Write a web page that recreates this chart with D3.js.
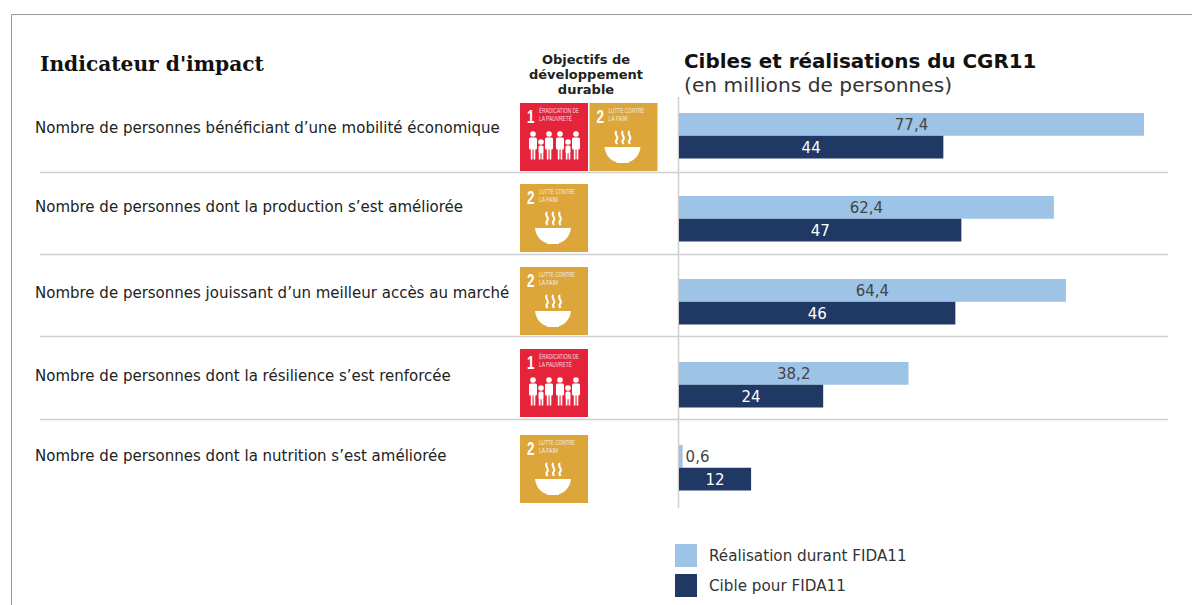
<!DOCTYPE html>
<html lang="fr">
<head>
<meta charset="utf-8">
<script src="https://cdn.jsdelivr.net/npm/d3@7"></script>
<style>
  html, body { margin: 0; padding: 0; background: #fff; overflow: hidden; }
  svg { display: block; font-family: "DejaVu Sans", sans-serif; }
</style>
</head>
<body>
<svg id="chart" width="1192" height="605"></svg>
<script>
// data
const indicators = [
  "Nombre de personnes bénéficiant d’une mobilité économique",
  "Nombre de personnes dont la production s’est améliorée",
  "Nombre de personnes jouissant d’un meilleur accès au marché",
  "Nombre de personnes dont la résilience s’est renforcée",
  "Nombre de personnes dont la nutrition s’est améliorée",
];
const realisation = [77.4, 62.4, 64.4, 38.2, 0.6];
const cible = [44, 47, 46, 24, 12];
const objectifs = [[1, 2], [2], [2], [1], [2]];
const seriesNames = ["Réalisation durant FIDA11", "Cible pour FIDA11"];

// layout
const colors = { real: "#9dc3e6", target: "#1f3864", line: "#cfcfcf" };
const labelY = [132.5, 211.5, 297.5, 380.5, 460.5];
const iconY = [103, 184, 267, 349, 435];
const separators = [172, 254, 336, 419];
const iconSize = 68;

const svg = d3.select("#chart");

const x = d3.scaleLinear().domain([0, 77.4]).range([679, 1144]);
const y = d3
  .scaleBand()
  .domain(indicators)
  .range([113, 490.5])
  .paddingInner(37.5 / 83);
const ySeries = d3
  .scaleBand()
  .domain(["real", "target"])
  .range([0, y.bandwidth()]);

// frame
svg
  .append("path")
  .attr("d", "M11.5,605V14.5H1192")
  .attr("fill", "none")
  .attr("stroke", "#999");

// headers
svg
  .append("text")
  .attr("x", 40)
  .attr("y", 71)
  .attr("font-size", 20.2)
  .attr("font-weight", "bold")
  .attr("fill", "#111")
  .attr("font-family", "DejaVu Serif")
  .text("Indicateur d'impact");

svg
  .append("g")
  .selectAll("text")
  .data(["Objectifs de", "développement", "durable"])
  .join("text")
  .attr("x", 586)
  .attr("y", (d, i) => 64 + i * 15)
  .attr("text-anchor", "middle")
  .attr("font-size", 13)
  .attr("font-weight", "bold")
  .attr("fill", "#222")
  .text((d) => d);

svg
  .append("text")
  .attr("x", 684)
  .attr("y", 68)
  .attr("font-size", 19.9)
  .attr("font-weight", "bold")
  .attr("fill", "#111")
  .text("Cibles et réalisations du CGR11");

svg
  .append("text")
  .attr("x", 684)
  .attr("y", 92)
  .attr("font-size", 20.2)
  .attr("fill", "#333")
  .text("(en millions de personnes)");

// separators and baseline
svg
  .append("g")
  .selectAll("line")
  .data(separators)
  .join("line")
  .attr("x1", 40)
  .attr("x2", 1168)
  .attr("y1", (d) => d + 0.5)
  .attr("y2", (d) => d + 0.5)
  .attr("stroke", colors.line)
  .attr("stroke-width", 1.5);

svg
  .append("line")
  .attr("x1", 678.5)
  .attr("x2", 678.5)
  .attr("y1", 97)
  .attr("y2", 508)
  .attr("stroke", colors.line)
  .attr("stroke-width", 1.5);

// indicator labels
svg
  .append("g")
  .selectAll("text")
  .data(indicators)
  .join("text")
  .attr("x", 35)
  .attr("y", (d, i) => labelY[i])
  .attr("font-size", 15)
  .attr("fill", "#222")
  .text((d) => d);

// bars
function drawSeries(key, values, fill, textFill) {
  const g = svg.append("g");

  g.selectAll("rect")
    .data(values)
    .join("rect")
    .attr("x", x(0))
    .attr("y", (d, i) => y(indicators[i]) + ySeries(key))
    .attr("width", (d) => x(d) - x(0))
    .attr("height", ySeries.bandwidth())
    .style("fill", fill);

  g.selectAll("text")
    .data(values)
    .join("text")
    .attr("x", (d) => (d < 2 ? x(d) + 3 : (x(d) + x(0)) / 2))
    .attr("y", (d, i) => y(indicators[i]) + ySeries(key) + ySeries.bandwidth() / 2 + 5.5)
    .attr("text-anchor", (d) => (d < 2 ? "start" : "middle"))
    .attr("font-size", 15)
    .attr("fill", textFill)
    .text((d) => String(d).replace(".", ","));
}
drawSeries("real", realisation, colors.real, "#444");
drawSeries("target", cible, colors.target, "#fff");

// SDG icons
function drawGoal(g, goal) {
  const red = goal === 1;
  g.append("rect")
    .attr("width", iconSize)
    .attr("height", iconSize)
    .attr("fill", red ? "#e5243b" : "#dda63a");

  g.append("text")
    .attr("x", 7)
    .attr("y", 20)
    .attr("font-size", 19)
    .attr("font-weight", "bold")
    .attr("font-family", "Liberation Sans")
    .attr("textLength", 7.5)
    .attr("lengthAdjust", "spacingAndGlyphs")
    .attr("fill", "#fff")
    .text(goal);

  const lines = red
    ? [["ÉRADICATION DE", 40], ["LA PAUVRETÉ", 33]]
    : [["LUTTE CONTRE", 36], ["LA FAIM", 19]];
  lines.forEach(([t, w], i) => {
    g.append("text")
      .attr("x", 19)
      .attr("y", 10 + i * 8)
      .attr("font-size", 6.5)
      .attr("font-family", "Liberation Sans")
      .attr("textLength", w)
      .attr("lengthAdjust", "spacingAndGlyphs")
      .attr("fill", "#fff")
      .attr("opacity", 0.8)
      .text(t);
  });

  if (red) {
    // family: [centre, head y, body height, body width]
    [[13, 31, 22, 8], [21, 39, 14, 5], [29, 31, 22, 8], [40, 31, 22, 8], [48, 39, 14, 5], [56, 31, 22, 8]].forEach(([cx, top, h, w]) => {
      g.append("circle").attr("cx", cx).attr("cy", top).attr("r", 2.8).attr("fill", "#fff");
      g.append("rect")
        .attr("x", cx - w / 2)
        .attr("y", top + 3.5)
        .attr("width", w)
        .attr("height", h * 0.55)
        .attr("rx", 1.5)
        .attr("fill", "#fff");
      [-2.2, 0.6].forEach((dx) => {
        g.append("rect")
          .attr("x", cx + dx)
          .attr("y", top + 3.5 + h * 0.5)
          .attr("width", 1.7)
          .attr("height", h * 0.5)
          .attr("fill", "#fff");
      });
    });
  } else {
    g.append("path")
      .attr("d", "M15,44H51C50,53 44,58 39,59V60H27V59C22,58 16,53 15,44Z")
      .attr("fill", "#fff");
    [27, 33.5, 40].forEach((sx) => {
      g.append("path")
        .attr("d", `M${sx},28c-3.5,3 3.5,6 0,9c-1.5,1.5 0,3 0.5,4`)
        .attr("fill", "none")
        .attr("stroke", "#fff")
        .attr("stroke-width", 2);
    });
  }
}

objectifs.forEach((goals, i) => {
  goals.forEach((goal, j) => {
    const g = svg
      .append("g")
      .attr("transform", `translate(${520 + j * (iconSize + 1.5)},${iconY[i]})`);
    drawGoal(g, goal);
  });
});

// legend
const legend = svg
  .append("g")
  .selectAll("g")
  .data(seriesNames)
  .join("g")
  .attr("transform", (d, i) => `translate(675,${544 + i * 30})`);

legend
  .append("rect")
  .attr("width", 22)
  .attr("height", 23)
  .attr("fill", (d, i) => (i === 0 ? colors.real : colors.target));

legend
  .append("text")
  .attr("x", 34)
  .attr("y", 17)
  .attr("font-size", 15.2)
  .attr("fill", "#333")
  .text((d) => d);
</script>
</body>
</html>
